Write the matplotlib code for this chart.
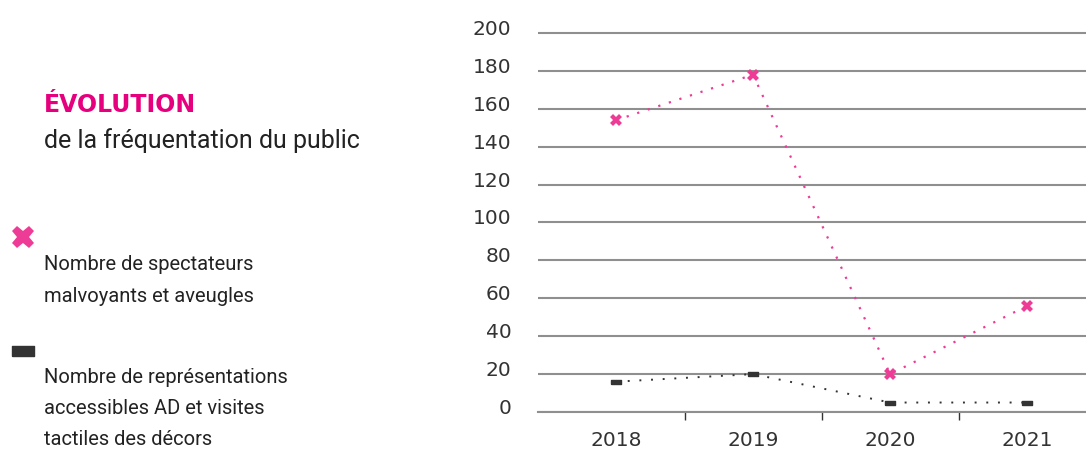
import matplotlib.pyplot as plt
import matplotlib.transforms as mtransforms
from matplotlib.lines import Line2D

# data
years = ["2018", "2019", "2020", "2021"]
spectateurs = [154, 178, 20, 56]
representations = [16, 20, 5, 5]
y_ticks = [0, 20, 40, 60, 80, 100, 120, 140, 160, 180, 200]

pink = "#ee3c96"
title_pink = "#e6007e"
dark = "#333333"
text_col = "#222222"
grid_col = "#8f8f8f"
narrow = ["Roboto", "DejaVu Sans"]

W, H = 1086, 450
fig = plt.figure(figsize=(W / 100, H / 100), dpi=100)

# axes placed so that 0 sits at y=412px and 200 at y=33px
ax = fig.add_axes([538 / W, 38 / H, 1 - 538 / W, (412 - 27.3) / H])
x = list(range(len(years)))

rect = [(-1, -0.45), (1, -0.45), (1, 0.45), (-1, 0.45), (-1, -0.45)]
ax.plot(x, representations, color=dark, lw=1.4, dashes=(1, 5),
        marker=rect, ms=7.5, mfc=dark, mec=dark, zorder=3)
ax.plot(x, spectateurs, color=pink, lw=1.6, dashes=(1, 4),
        marker="X", ms=9, mfc=pink, mec=pink, mew=0, zorder=4)

ax.set_xlim(-0.57, 3.43)
ax.set_ylim(0, 203)
ax.set_yticks(y_ticks)
ax.set_yticklabels([str(v) for v in y_ticks])
ax.set_xticks(x)
ax.set_xticklabels(years)
ax.set_xticks([0.5, 1.5, 2.5], minor=True)

for s in ["top", "right", "left"]:
    ax.spines[s].set_visible(False)
ax.spines["bottom"].set_color(grid_col)
ax.spines["bottom"].set_linewidth(1.5)

ax.yaxis.grid(True, color=grid_col, lw=1.5)
ax.set_axisbelow(True)
ax.tick_params(axis="y", length=0, pad=19, labelsize=14.5, labelcolor=dark)
ax.tick_params(axis="x", which="major", length=0, pad=14, labelsize=14.5, labelcolor=dark)
ax.tick_params(axis="x", which="minor", length=6, width=1, color=dark, direction="out")

# y labels sit a little above their gridline
shift = mtransforms.ScaledTranslation(0, 4 / 72, fig.dpi_scale_trans)
for lab in ax.get_yticklabels():
    lab.set_transform(lab.get_transform() + shift)

# left-hand titles and legend
def px(xp, yp):
    return xp / W, 1 - yp / H

fig.text(*px(44, 112), "ÉVOLUTION", color=title_pink, fontsize=17, fontweight="bold",
         family=["DejaVu Sans"], va="baseline")
fig.text(*px(44, 148), "de la fréquentation du public", color=text_col, fontsize=18,
         family=narrow, va="baseline")

fig.add_artist(Line2D([23 / W], [1 - 237 / H], marker="X", ms=16, color=pink, mew=0,
                      transform=fig.transFigure))
fig.text(*px(44, 270), "Nombre de spectateurs", color=text_col, fontsize=14.5,
         family=narrow, va="baseline")
fig.text(*px(44, 302), "malvoyants et aveugles", color=text_col, fontsize=14.5,
         family=narrow, va="baseline")

fig.add_artist(Line2D([23 / W], [1 - 351 / H], marker=rect, ms=16, color=dark,
                      transform=fig.transFigure))
fig.text(*px(44, 383), "Nombre de représentations", color=text_col, fontsize=14.5,
         family=narrow, va="baseline")
fig.text(*px(44, 414), "accessibles AD et visites", color=text_col, fontsize=14.5,
         family=narrow, va="baseline")
fig.text(*px(44, 445), "tactiles des décors", color=text_col, fontsize=14.5,
         family=narrow, va="baseline")

fig.savefig("out.png", dpi=100, facecolor="white")
